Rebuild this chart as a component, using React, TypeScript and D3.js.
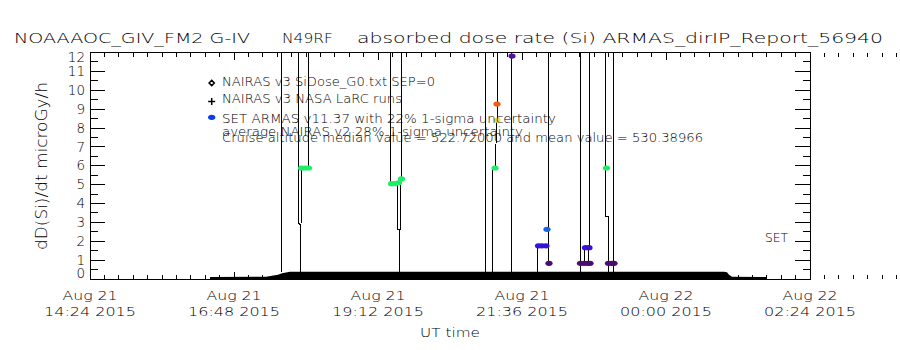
import * as d3 from 'd3'

// ---- chart text ----
const TITLE_PARTS = ['NOAAAOC_GIV_FM2 G-IV', 'N49RF', 'absorbed dose rate (Si) ARMAS_dirIP_Report_56940']
const Y_LABEL = 'dD(Si)/dt microGy/h'
const X_LABEL = 'UT time'
const Y_TICKS = [0, 1, 2, 3, 4, 5, 6, 7, 8, 9, 10, 11, 12]
const X_TICKS = ['14:24:00', '16:48:00', '19:12:00', '21:36:00', '00:00:00', '02:24:00']
const LEGEND_LABELS = [
  'NAIRAS v3 SiDose_G0.txt SEP=0',
  'NAIRAS v3 NASA LaRC runs',
  'SET ARMAS v11.37 with 22% 1-sigma uncertainty',
  'average NAIRAS v2 28% 1-sigma uncertainty',
  'Cruise altitude median value = 522.72000 and mean value = 530.38966',
]
const SIDE_LABEL = 'SET'

// ---- NAIRAS run along the flight (solid black band) ----
const NAIRAS_TIMES = ['16:24:00', '17:20:00', '17:26:00', '17:32:00', '17:36:00', '17:44:00', '00:58:00', '01:01:00', '01:03:00', '01:06:00', '01:41:00']
const NAIRAS_VALUES = [0.1, 0.12, 0.17, 0.22, 0.3, 0.39, 0.39, 0.36, 0.22, 0.12, 0.1]

// ---- SET trace (thin black line, null = gap, values above 12 run off the top) ----
const TRACE_TIMES = [
  '17:35:30', '17:35:42', null,
  '17:52:18', '17:52:18', '17:54:00', '17:54:00', null,
  '17:55:00', '17:55:00', '18:02:18', '18:02:18', null,
  '19:24:00', '19:24:00', '19:31:42', '19:31:42', '19:33:00', '19:33:00', null,
  '19:34:00', '19:34:00', '19:35:00', '19:35:00', null,
  '20:59:00', '20:59:00', null,
  '21:11:18', '21:11:18', '21:11:00', '21:09:00', '21:06:20', '21:06:20', null,
  '21:25:36', '21:25:42', '21:25:42', null,
  '22:02:18', '22:02:18', null,
  '21:51:18', '21:51:18', null,
  '22:34:00', '22:34:00', null,
  '22:43:18', '22:43:18', null,
  '22:38:00', '22:38:00', null,
  '22:42:18', '22:42:18', null,
  '22:59:42', '22:59:42', '23:02:18', '23:02:18', null,
  '23:07:18', '23:07:18',
]
const TRACE_VALUES = [
  0.39, 20, null,
  20, 2.95, 2.9, 0.39, null,
  2.95, 5.88, 5.88, 20, null,
  20, 5.09, 5.09, 2.6, 2.6, 0.39, null,
  2.6, 5.3, 5.3, 20, null,
  0.39, 20, null,
  20, 9.27, 8.42, 5.88, 5.88, 0.39, null,
  0.39, 11.81, 20, null,
  20, 0.83, null,
  1.76, 0.39, null,
  20, 0.39, null,
  20, 1.66, null,
  1.66, 0.83, null,
  1.66, 0.83, null,
  20, 3.3, 3.3, 0.39, null,
  20, 0.39,
]

// ---- SET ARMAS points ----
const SET_TIMES = [
  '17:55:30', '17:59:00', '18:02:30',
  '19:25:30', '19:29:00', '19:32:30', '19:35:30',
  '21:09:00', '21:11:00', '21:11:00', '21:26:00',
  '21:52:30', '21:56:00', '22:00:00', '22:01:00', '22:03:00',
  '22:34:30', '22:38:00', '22:41:30', '22:44:00', '22:39:30', '22:43:00',
  '23:00:30', '23:02:30', '23:06:00', '23:08:00',
]
const SET_VALUES = [
  5.88, 5.88, 5.88,
  5.05, 5.05, 5.1, 5.3,
  5.88, 9.27, 8.42, 11.81,
  1.76, 1.76, 1.76, 2.63, 0.83,
  0.83, 0.83, 0.83, 0.83, 1.66, 1.66,
  5.88, 0.83, 0.83, 0.83,
]
const SET_COLORS = [
  '#20ec68', '#20ec68', '#20ec68',
  '#20ec68', '#20ec68', '#20ec68', '#20ec68',
  '#20ec68', '#f05a14', '#ecdc48', '#55109c',
  '#3412d8', '#3412d8', '#3412d8', '#1464f0', '#4b0c70',
  '#4b0c70', '#4b0c70', '#4b0c70', '#4b0c70', '#3a10d0', '#3a10d0',
  '#20ec68', '#4b0c70', '#4b0c70', '#4b0c70',
]

const FONT = '"DejaVu Sans", sans-serif'

function toDate(s: string) {
  const [h, m, sec] = s.split(':').map(Number)
  return new Date(Date.UTC(2015, 7, h < 12 ? 22 : 21, h, m, sec))
}

export default function App() {
  const W = 900
  const H = 350
  const left = 90, right = 810, top = 52.5, bottom = 279

  const x = d3.scaleUtc().domain([toDate(X_TICKS[0]), toDate(X_TICKS[X_TICKS.length - 1])]).range([left, right])
  const y = d3.scaleLinear().domain([0, 12]).range([bottom, top])

  const fmtDay = d3.utcFormat('%b %d')
  const fmtTime = d3.utcFormat('%H:%M %Y')

  // minor ticks: 10 per major interval
  const majorDates = X_TICKS.map(toDate)
  const step = (majorDates[1].getTime() - majorDates[0].getTime()) / 10
  const xMinor = d3.range(0, 61).map(i => new Date(majorDates[0].getTime() + i * step))
  const yMinor = d3.range(0.5, 12, 1)

  const area = d3.area<number>()
    .x(i => x(toDate(NAIRAS_TIMES[i])))
    .y0(y(0))
    .y1(i => y(NAIRAS_VALUES[i]))
  const nairasPath = area(NAIRAS_TIMES.map((_, i) => i)) || ''

  const line = d3.line<number>()
    .defined(i => TRACE_VALUES[i] != null)
    .x(i => x(toDate(TRACE_TIMES[i] as string)))
    .y(i => y(TRACE_VALUES[i] as number))
  const tracePath = line(TRACE_TIMES.map((_, i) => i)) || ''

  const legendX = 222
  const legendBase = [86, 102.7, 123.3, 136, 141.7]
  const legendLen = [213, 180, 334, 301, 481]
  const mx = 211.7

  return (
    <svg width={W} height={H} style={{ position: 'absolute', left: 0, top: 0, background: '#fff' }}
      fontFamily={FONT} fontWeight={200} fill="#000">
      <defs>
        <clipPath id="plot">
          <rect x={left} y={top} width={right - left} height={bottom - top} />
        </clipPath>
      </defs>
      <rect x={0} y={0} width={W} height={H} fill="#fff" />

      {/* title */}
      <text x={14} y={43} fontSize={14.5} textLength={236} lengthAdjust="spacingAndGlyphs">{TITLE_PARTS[0]}</text>
      <text x={282} y={43} fontSize={14.5} textLength={51} lengthAdjust="spacingAndGlyphs">{TITLE_PARTS[1]}</text>
      <text x={357} y={43} fontSize={14.5} textLength={526} lengthAdjust="spacingAndGlyphs">{TITLE_PARTS[2]}</text>

      {/* data */}
      <g clipPath="url(#plot)">
        <path d={nairasPath} fill="#000" />
        <path d={tracePath} fill="none" stroke="#000" strokeWidth={1} shapeRendering="crispEdges" />
        {SET_TIMES.map((t, i) => (
          <ellipse key={i} cx={x(toDate(t))} cy={y(SET_VALUES[i])} rx={3.6} ry={2.6} fill={SET_COLORS[i]} />
        ))}
      </g>

      {/* frame and ticks */}
      <g stroke="#000" strokeWidth={1} shapeRendering="crispEdges" fill="none">
        <rect x={left} y={top} width={right - left} height={bottom - top} />
        {Y_TICKS.map(v => (
          <g key={'y' + v}>
            <line x1={left} x2={left + 15} y1={y(v)} y2={y(v)} />
            <line x1={right} x2={right - 15} y1={y(v)} y2={y(v)} />
          </g>
        ))}
        {yMinor.map(v => (
          <g key={'ym' + v}>
            <line x1={left} x2={left + 7.5} y1={y(v)} y2={y(v)} />
            <line x1={right} x2={right - 7.5} y1={y(v)} y2={y(v)} />
          </g>
        ))}
        {xMinor.map((d, i) => {
          const len = i % 10 === 0 ? 7 : 4
          return (
            <g key={'xm' + i}>
              <line x1={x(d)} x2={x(d)} y1={bottom} y2={bottom - len} />
              <line x1={x(d)} x2={x(d)} y1={top} y2={top + len} />
            </g>
          )
        })}
      </g>

      {/* y tick labels */}
      {Y_TICKS.map(v => (
        <text key={'yl' + v} x={85} y={Math.min(Math.max(y(v), 57), 273) + 4.7} fontSize={13.5} textAnchor="end">{v}</text>
      ))}

      {/* x tick labels */}
      {majorDates.map((d, i) => (
        <g key={'xl' + i}>
          <text x={x(d)} y={300} fontSize={13} textAnchor="middle" textLength={55} lengthAdjust="spacingAndGlyphs">{fmtDay(d)}</text>
          <text x={x(d)} y={315.7} fontSize={13} textAnchor="middle" textLength={92} lengthAdjust="spacingAndGlyphs">{fmtTime(d)}</text>
        </g>
      ))}

      {/* axis titles */}
      <text x={450} y={336.7} fontSize={13} textAnchor="middle" textLength={60} lengthAdjust="spacingAndGlyphs">{X_LABEL}</text>
      <text transform="translate(47,166) rotate(-90)" fontSize={15} textAnchor="middle" textLength={168} lengthAdjust="spacingAndGlyphs">{Y_LABEL}</text>

      {/* legend */}
      <path d={`M${mx},${83 - 2.6}L${mx + 2.6},83L${mx},${83 + 2.6}L${mx - 2.6},83Z`} fill="#fff" stroke="#000" strokeWidth={1.5} />
      <path d={`M${mx - 3.5},101.5H${mx + 3.5}M${mx},98V105`} stroke="#000" strokeWidth={1.5} />
      <ellipse cx={mx} cy={117.3} rx={3.6} ry={2.6} fill="#0a3cf0" />
      {LEGEND_LABELS.map((t, i) => (
        <text key={'lg' + i} x={legendX} y={legendBase[i]} fontSize={13} textLength={legendLen[i]} lengthAdjust="spacingAndGlyphs">{t}</text>
      ))}

      <text x={765} y={241.7} fontSize={12} textLength={23} lengthAdjust="spacingAndGlyphs">{SIDE_LABEL}</text>
    </svg>
  )
}
